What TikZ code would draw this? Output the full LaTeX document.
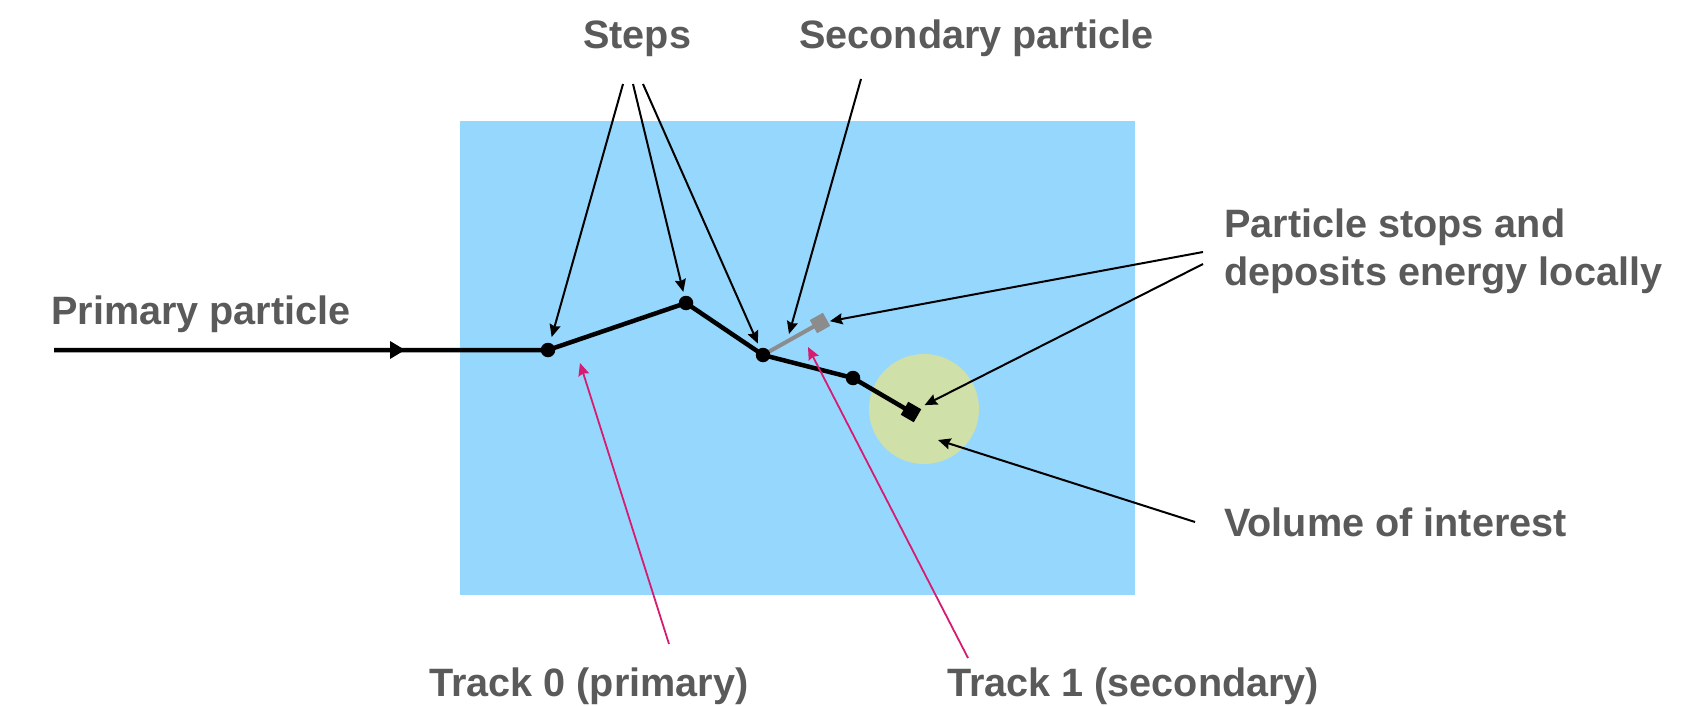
\documentclass[tikz,border=0pt]{standalone}
\usepackage{fontspec}
\setmainfont{Liberation Sans}
\usetikzlibrary{arrows.meta}
\definecolor{bluebg}{RGB}{150,215,253}
\definecolor{voicol}{RGB}{207,224,168}
\definecolor{txtcol}{RGB}{90,90,90}
\definecolor{seccol}{RGB}{140,140,140}
\definecolor{magcol}{RGB}{214,28,112}
\pgfdeclarelayer{bg}
\pgfdeclarelayer{mid}
\pgfsetlayers{bg,mid,main}
\tikzset{
  lbl/.style={font=\fontsize{39.6}{48}\selectfont\bfseries, text=txtcol, inner sep=0pt, anchor=base west, align=left},
  dot/.style={circle, fill=black, minimum size=14.5pt, inner sep=0pt},
  sq/.style={rectangle, minimum size=15pt, inner sep=0pt},
  trk/.style={line width=4.5pt, black, line join=round},
  ptr/.style={line width=2pt, black, -{Stealth[length=12.5pt,width=11pt,inset=1.5pt]}},
  tptr/.style={ptr, magcol},
}
\begin{document}
\begin{tikzpicture}[x=1pt,y=-1pt]
\useasboundingbox (0,0) rectangle (1691,706);
\begin{pgfonlayer}{bg}
  \fill[bluebg] (460,121) rectangle (1135,595);
  \fill[voicol] (924,409) circle[radius=55pt];
\end{pgfonlayer}

% track nodes
\node[dot] (p1) at (548,350) {};
\node[dot] (p2) at (686,303) {};
\node[dot] (p3) at (763,355) {};
\node[dot] (p4) at (853,378) {};
\node[sq, fill=black, rotate=-30] (stop) at (911,412) {};
\node[sq, fill=seccol, rotate=29] (secsq) at (820,323) {};
\coordinate (pstart) at (54,350);
\coordinate (pmid) at (405,350);

\begin{pgfonlayer}{mid}
  \draw[trk] (pstart) -- (p1.center) -- (p2.center) -- (p3.center) -- (p4.center) -- (stop.center);
  \draw[line width=4pt, seccol] (p3.center) -- (secsq.center);
\end{pgfonlayer}
\fill[black] (pmid) -- ++(-15,-9) -- ++(0,18) -- cycle;

% labels
\node[lbl] (prim) at (51,324) {Primary particle};
\node[lbl] (steps) at (583,49) {Steps};
\node[lbl] (seclbl) at (799,49) {Secondary particle};
\node[lbl] (stoplbl) at (1224,285) {Particle stops and\\deposits energy locally};
\node[lbl] (voilbl) at (1224,536) {Volume of interest};
\node[lbl] (t0) at (429,696) {Track 0 (primary)};
\node[lbl] (t1) at (947,696) {Track 1 (secondary)};

% steps arrows
\coordinate (st1) at (623,84);
\coordinate (st2) at (633,84);
\coordinate (st3) at (643,84);
\draw[ptr, shorten >=6pt] (st1) -- (p1);
\draw[ptr, shorten >=4pt] (st2) -- (p2);
\draw[ptr, shorten >=5pt] (st3) -- (p3);

% secondary particle arrow
\coordinate (sc1) at (861,79);
\coordinate (sc2) at (789,334);
\draw[ptr] (sc1) -- (sc2);

% stops arrows
\coordinate (sa1) at (1203,252);
\coordinate (sa2) at (1203,264);
\draw[ptr, shorten >=2pt] (sa1) -- (secsq);
\draw[ptr, shorten >=6pt] (sa2) -- (stop);

% volume arrow
\coordinate (v1) at (1195,522);
\coordinate (v2) at (938,440);
\draw[ptr] (v1) -- (v2);

% track arrows
\coordinate (t0a) at (669,644);
\coordinate (t0b) at (580,363);
\draw[tptr, line width=1.8pt] (t0a) -- (t0b);
\coordinate (t1a) at (968,658);
\coordinate (t1b) at (808,347);
\draw[tptr, line width=1.8pt] (t1a) -- (t1b);
\end{tikzpicture}
\end{document}
